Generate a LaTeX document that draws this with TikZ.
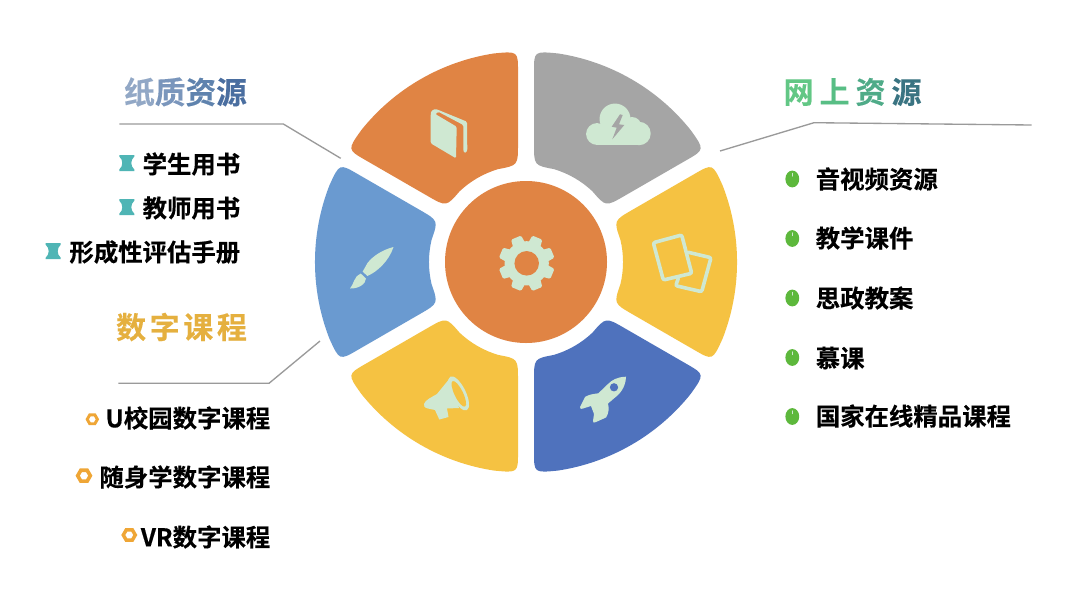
\documentclass[tikz,border=0pt]{standalone}
\usepackage{fontspec}
\setmainfont{Noto Sans CJK SC}[BoldFont={Noto Sans CJK SC Bold},BoldFeatures={FakeBold=0.25}]
\definecolor{cOrange}{HTML}{E08444}
\definecolor{cGray}{HTML}{A5A5A5}
\definecolor{cYellow}{HTML}{F5C242}
\definecolor{cBlue}{HTML}{4F72BD}
\definecolor{cSky}{HTML}{6A9AD0}
\definecolor{cIcon}{HTML}{CFE8D2}
\definecolor{cLine}{HTML}{9A9A9A}
\definecolor{cTeal}{HTML}{4FB5B5}
\definecolor{cNut}{HTML}{EFA636}
\definecolor{cGreen}{HTML}{5DB83C}
\definecolor{cTitleY}{HTML}{E5B03F}
\definecolor{pa}{HTML}{92A8C6}\definecolor{pb}{HTML}{7A96BC}\definecolor{pc}{HTML}{5F83AE}\definecolor{pd}{HTML}{4A6EA0}
\definecolor{na}{HTML}{62C785}\definecolor{nb}{HTML}{58BE85}\definecolor{nc}{HTML}{4FAB88}\definecolor{nd}{HTML}{3A7482}
\tikzset{
  item/.style={font=\fontsize{18.3pt}{20pt}\selectfont\bfseries,text=black,inner sep=0pt},
  headA/.style={font=\fontsize{23pt}{24pt}\selectfont\bfseries,inner sep=0pt},
  headB/.style={font=\fontsize{22.5pt}{24pt}\selectfont\bfseries,inner sep=0pt},
  leader/.style={draw=cLine,line width=1pt},
  icon/.style={fill=cIcon},
  iconline/.style={draw=cIcon,line width=2.7pt,rounded corners=1.5pt,line cap=round},
}
\newcommand{\sectorat}[2]{%
  \fill[#2] ({#1-21.34}:211)
    .. controls ({#1-7.24}:217.6) and ({#1+7.24}:217.6) .. ({#1+21.34}:211)
    .. controls ({#1+27.84}:211) .. ({#1+27.59}:190.17)
    -- ({#1+26.12}:118.27)
    .. controls ({#1+25.27}:97) .. ({#1+13.27}:97)
    .. controls ({#1+4.45}:98.2) and ({#1-4.45}:98.2) .. ({#1-13.27}:97)
    .. controls ({#1-25.27}:97) .. ({#1-26.12}:118.27)
    -- ({#1-27.59}:190.17)
    .. controls ({#1-27.84}:211) .. ({#1-21.34}:211) -- cycle;}
\newcommand{\hourglass}[2]{%
  \fill[cTeal,shift={(#1,#2)}] (-7.5,-8) -- (7.5,-8) -- (7.5,-6.5)
    .. controls (3.5,-3) and (3.5,3) .. (7.5,6.5) -- (7.5,8) -- (-7.5,8) -- (-7.5,6.5)
    .. controls (-3.5,3) and (-3.5,-3) .. (-7.5,-6.5) -- cycle;}
\newcommand{\nutat}[3]{%
  \fill[cNut,even odd rule,shift={(#1,#2)}] (0:#3) -- (60:#3) -- (120:#3) -- (180:#3) -- (240:#3) -- (300:#3) -- cycle
    (0:{#3*0.5}) -- (60:{#3*0.5}) -- (120:{#3*0.5}) -- (180:{#3*0.5}) -- (240:{#3*0.5}) -- (300:{#3*0.5}) -- cycle;}
\newcommand{\mouseat}[2]{%
  \fill[cGreen] (#1,#2) ellipse [x radius=5.2pt,y radius=6.3pt];
  \draw[cIcon,line width=0.9pt,line cap=round] (#1,#2-5.5) -- (#1,#2-3);}
\begin{document}
\begin{tikzpicture}[x=0.75pt,y=-0.75pt]
\useasboundingbox (0,0) rectangle (1080,593);
\fill[white] (0,0) rectangle (1080,593);

% sectors
\begin{scope}[shift={(526,262)}]
  \sectorat{0}{cYellow}
  \sectorat{60}{cBlue}
  \sectorat{120}{cYellow}
  \sectorat{180}{cSky}
  \sectorat{240}{cOrange}
  \sectorat{300}{cGray}
\end{scope}
\node[circle,fill=cOrange,minimum size=121.5pt,inner sep=0pt] (hub) at (526,262) {};

% gear
\begin{scope}[shift={(526.7,263.3)}]
  \fill[cIcon] (0,0) circle [radius=16.6pt];
  \foreach \a in {22.5,67.5,...,337.5}{
    \fill[cIcon,rounded corners=1pt] ({\a-19}:20) -- ({\a-11}:28.3) -- ({\a+11}:28.3) -- ({\a+19}:20) -- cycle;
  }
  \fill[cOrange] (0,0) circle [radius=9.2pt];
\end{scope}

% book
\fill[icon,rounded corners=1pt] (430.7,143.3) -- (430.7,114.5) .. controls (431,111) and (434,108.5) .. (438,109.8)
  -- (467,121.7) -- (467.3,150.5) -- (466,152.7) -- (464.5,152.7) -- (463.3,151)
  -- (463.3,125) -- (438.3,111.8) -- (435.2,114) -- (456.7,126.7) -- (456,158.3) -- cycle;

% cloud
\fill[icon] (597,134) circle [radius=8.2pt];
\fill[icon] (615,119) circle [radius=11.6pt];
\fill[icon] (632,126.5) circle [radius=7.1pt];
\fill[icon] (639,133.5) circle [radius=8.8pt];
\fill[icon] (597,126) rectangle (639,145.2);
\fill[cGray] (620,114.3) -- (611.7,126.7) -- (616.7,127.7) -- (612.3,139.3) -- (624.3,125) -- (619,124.3) -- (622.7,115) -- cycle;

% cards
\draw[iconline] (653.3,242.7) -- (681.7,235) -- (691.7,273.3) -- (663.3,280) -- cycle;
\draw[iconline] (688.3,252.3) -- (711,257.7) -- (701.7,291.7) -- (675.7,285.7) -- (678.3,278.3);

% rocket
\fill[icon] (626,376.7) .. controls (617,377) and (612,380) .. (608,384)
  -- (598.3,393.3) .. controls (592,394) and (588,395) .. (585,397)
  -- (580,407) .. controls (580,409) and (581,409.5) .. (583,408.5)
  -- (591,406) -- (594,414) -- (593,421) .. controls (593,423) and (594,423) .. (596,422)
  -- (606,417.5) .. controls (609,413) and (609,408) .. (608,403.5)
  -- (618,395) .. controls (624,389) and (626,382) .. (626,376.7) -- cycle;
\fill[cBlue] (614,387.3) circle [radius=3.1pt];

% megaphone
\fill[icon] (424,404) .. controls (425,400) and (432,397) .. (437,394)
  -- (450,378) -- (459,408) -- (447,408.5) -- (448.5,417) -- (439.3,419.5) -- (435,410)
  -- (428,408.5) .. controls (425,408) and (423,406) .. (424,404) -- cycle;
\begin{scope}[shift={(458.6,393.4)},rotate=-64]
  \fill[icon] (0,0) ellipse [x radius=14pt,y radius=5.4pt];
  \fill[cYellow] (0.5,0) ellipse [x radius=10.6pt,y radius=3.2pt];
\end{scope}

% brush
\fill[icon] (393.5,247) .. controls (382,250) and (373,256) .. (367.5,263)
  -- (362.7,271.5) -- (367.3,276) .. controls (377,272) and (389,261) .. (393.5,247) -- cycle;
\fill[icon] (350,288.5) .. controls (354,284) and (354,276) .. (360.7,273.5)
  -- (366,278.5) .. controls (366,284) and (358,289) .. (350,288.5) -- cycle;

% titles
\node[headA,anchor=center] (t1) at (185.5,92) {\textcolor{pa}{纸}\textcolor{pb}{质}\textcolor{pc}{资}\textcolor{pd}{源}};
\node[headB,anchor=center,text=cTitleY] (t2) at (181.5,327) {数\hspace{2.7pt}字\hspace{2.7pt}课\hspace{2.7pt}程};
\node[headB,anchor=center] (t3) at (852.5,92) {\textcolor{na}{网}\hspace{4.5pt}\textcolor{nb}{上}\hspace{4.5pt}\textcolor{nc}{资}\hspace{4.5pt}\textcolor{nd}{源}};

% leaders
\coordinate (l1a) at (119.3,124);
\coordinate (l1b) at (283.3,124);
\coordinate (l1c) at (340.7,158.3);
\draw[leader] (l1a) -- (l1b) -- (l1c);
\coordinate (l2a) at (118.3,383.3);
\coordinate (l2b) at (269,383.3);
\coordinate (l2c) at (320,341);
\draw[leader] (l2a) -- (l2b) -- (l2c);
\coordinate (l3a) at (720,151);
\coordinate (l3b) at (814,122.7);
\coordinate (l3c) at (1031.7,125);
\draw[leader] (l3a) -- (l3b) -- (l3c);

% left items
\hourglass{126.8}{163}
\hourglass{126.8}{207.2}
\hourglass{53.2}{251.2}
\node[item,anchor=east] (a1) at (240.5,164) {学生用书};
\node[item,anchor=east] (a2) at (240.5,208) {教师用书};
\node[item,anchor=east] (a3) at (240.5,252) {形成性评估手册};

\nutat{92.3}{419.3}{6.8}
\nutat{84}{475.7}{8.4}
\nutat{129.3}{535}{8}
\node[item,anchor=east] (b1) at (270.5,418) {U校园数字课程};
\node[item,anchor=east] (b2) at (270.5,477) {随身学数字课程};
\node[item,anchor=east] (b3) at (270.5,537) {VR数字课程};

% right items
\mouseat{792.3}{179}
\mouseat{792.3}{238.5}
\mouseat{792.3}{298}
\mouseat{792.3}{357.5}
\mouseat{792.3}{416.5}
\node[item,anchor=west] (c1) at (815.5,179) {音视频资源};
\node[item,anchor=west] (c2) at (815.5,238) {教学课件};
\node[item,anchor=west] (c3) at (815.5,298) {思政教案};
\node[item,anchor=west] (c4) at (815.5,358) {慕课};
\node[item,anchor=west] (c5) at (815.5,416) {国家在线精品课程};
\end{tikzpicture}
\end{document}
